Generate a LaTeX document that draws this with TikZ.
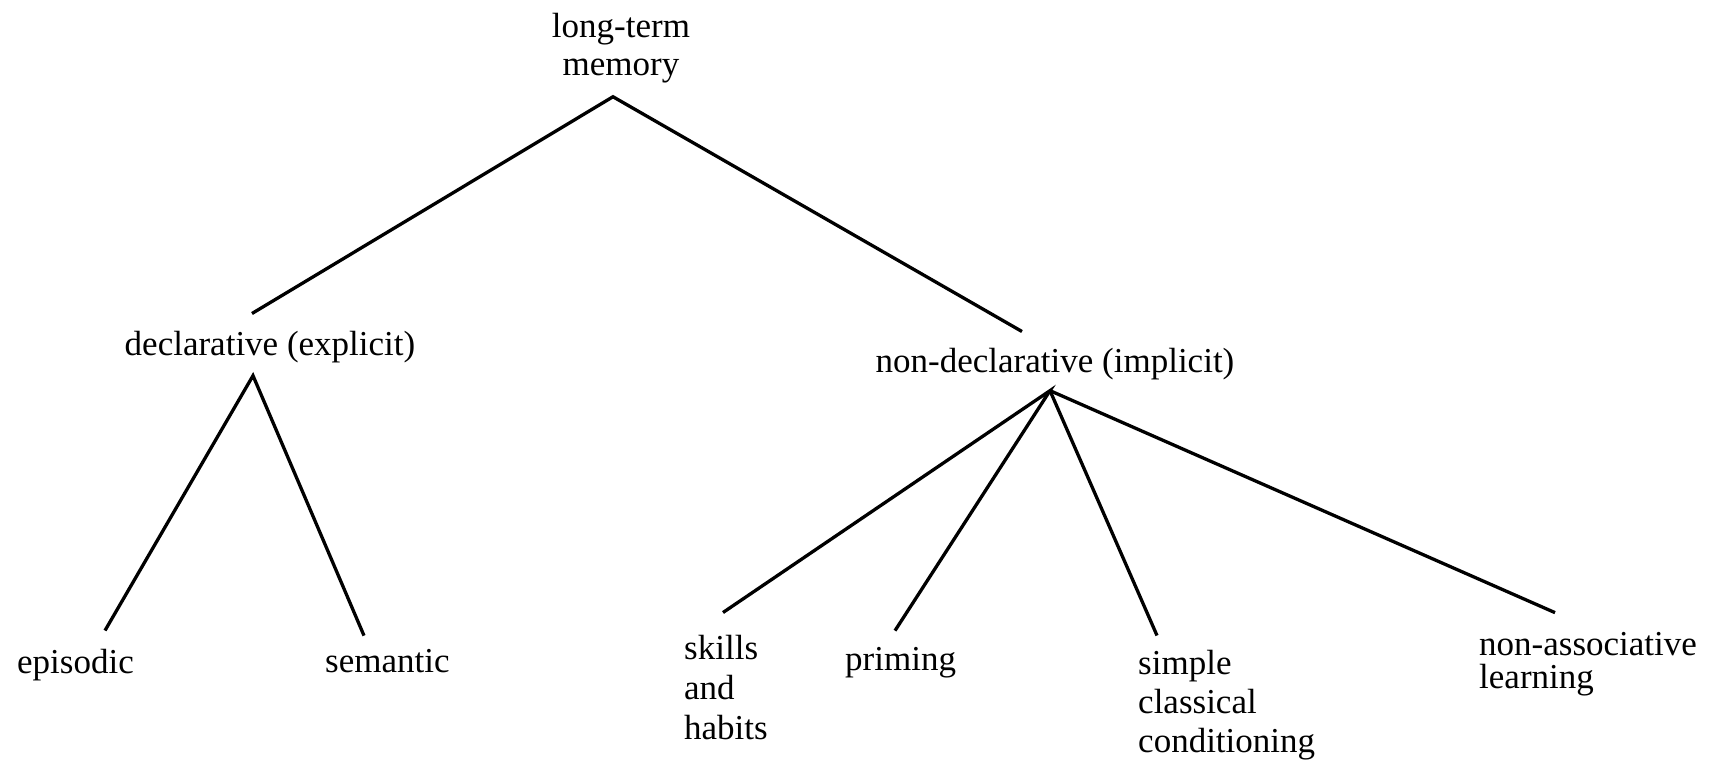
\documentclass[tikz,border=0pt]{standalone}
\usepackage{fontspec}
\setmainfont{Liberation Serif}
\begin{document}
\begin{tikzpicture}[x=1pt,y=-1pt,
    head/.style={inner sep=0pt,font=\fontsize{35}{38}\selectfont,align=center,anchor=base},
    leaf/.style={inner sep=0pt,font=\fontsize{35}{39}\selectfont,align=left,anchor=base west},
    branch/.style={line width=3.3pt,line join=miter}]
  \useasboundingbox (0,0) rectangle (1710,760);
  % top of the tree
  \node at (621,75) [head] (ltm) {long-term\\memory};
  \node at (270,355) [head] (decl) {declarative (explicit)};
  \node at (1055,372) [head] (nondecl) {non-declarative (implicit)};
  % leaves
  \node at (17,673) [leaf] (episodic) {episodic};
  \node at (325,672) [leaf] (semantic) {semantic};
  \node at (684,739) [leaf] (skills) {skills\\[1pt]and\\[1pt]habits};
  \node at (845,670) [leaf] (priming) {priming};
  \node at (1138,752) [leaf] (simple) {simple\\classical\\conditioning};
  \node at (1479,688) [leaf] (nonassoc) {non-associative\\[-6pt]learning};
  % branches
  \draw [branch] ([shift={(-18,-17)}]decl.north) -- ([shift={(-8,14)}]ltm.south)
    -- ([shift={(-33,-16)}]nondecl.north);
  \draw [branch] ([shift={(88,-18)}]episodic.north west) -- ([shift={(-17,13)}]decl.south)
    -- ([shift={(39,-13)}]semantic.north west);
  \draw [branch] ([shift={(39,-22)}]skills.north west) -- ([shift={(-5,11)}]nondecl.south)
    -- ([shift={(50,-16)}]priming.north west);
  \draw [branch] ([shift={(-5,11)}]nondecl.south) -- ([shift={(19,-14)}]simple.north west);
  \draw [branch] ([shift={(-5,11)}]nondecl.south) -- ([shift={(76,-19)}]nonassoc.north west);
\end{tikzpicture}
\end{document}
